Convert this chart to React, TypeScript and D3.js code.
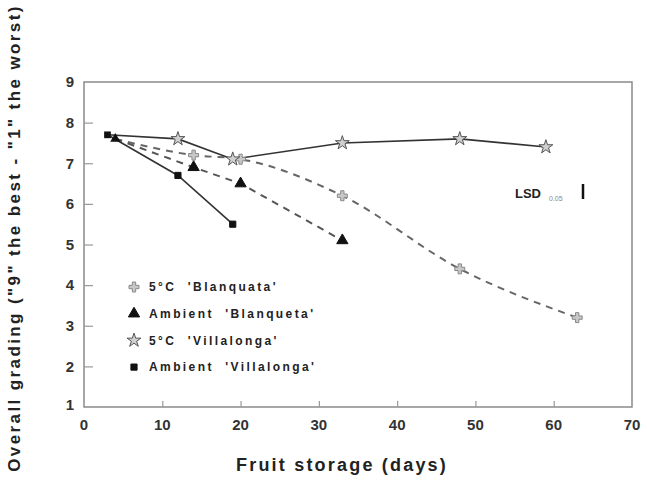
import React, { useEffect, useRef } from 'react';
import * as d3 from 'd3';

interface Pt { day: number; grade: number; }

// 5°C 'Blanquata' (crosses, dashed)
const blanq5: Pt[] = [
  { day: 4, grade: 7.6 }, { day: 14, grade: 7.2 }, { day: 20, grade: 7.1 },
  { day: 33, grade: 6.2 }, { day: 48, grade: 4.4 }, { day: 63, grade: 3.2 }
];
// Ambient 'Blanqueta' (triangles, dashed)
const blanqAmb: Pt[] = [
  { day: 4, grade: 7.6 }, { day: 14, grade: 6.9 }, { day: 20, grade: 6.5 }, { day: 33, grade: 5.1 }
];
// 5°C 'Villalonga' (stars, solid)
const villa5: Pt[] = [
  { day: 3, grade: 7.7 }, { day: 12, grade: 7.6 }, { day: 19, grade: 7.1 },
  { day: 33, grade: 7.5 }, { day: 48, grade: 7.6 }, { day: 59, grade: 7.4 }
];
// Ambient 'Villalonga' (squares, solid)
const villaAmb: Pt[] = [
  { day: 3, grade: 7.7 }, { day: 12, grade: 6.7 }, { day: 19, grade: 5.5 }
];

const xTicks = [0, 10, 20, 30, 40, 50, 60, 70];
const yTicks = [1, 2, 3, 4, 5, 6, 7, 8, 9];
const legendLabels = ["5\u00B0C  'Blanquata'", "Ambient  'Blanqueta'", "5\u00B0C  'Villalonga'", "Ambient  'Villalonga'"];

const App: React.FC = () => {
  const svgRef = useRef<SVGSVGElement>(null);

  useEffect(() => {
    if (!svgRef.current) return;
    const svg = d3.select(svgRef.current);
    svg.selectAll('*').remove();

    const font = "'Liberation Sans', Arial, sans-serif";
    const left = 84, right = 632, top = 82, bottom = 407;

    const x = d3.scaleLinear().domain([0, 70]).range([left, right]);
    const y = d3.scaleLinear().domain([1, 9]).range([bottom, top]);

    // Frame
    svg.append('rect')
      .attr('x', left).attr('y', top)
      .attr('width', right - left).attr('height', bottom - top)
      .attr('fill', 'none').attr('stroke', '#8a8a8a').attr('stroke-width', 1.5);

    // Inner ticks
    svg.append('g')
      .attr('transform', `translate(${left},0)`)
      .call(d3.axisRight(y).tickValues(yTicks.slice(1, -1)).tickSize(9).tickFormat(() => ''))
      .call(g => g.select('.domain').remove())
      .call(g => g.selectAll('line').attr('stroke', '#999').attr('stroke-width', 1.2));

    svg.append('g')
      .attr('transform', `translate(0,${bottom})`)
      .call(d3.axisTop(x).tickValues(xTicks.slice(1, -1)).tickSize(6).tickFormat(() => ''))
      .call(g => g.select('.domain').remove())
      .call(g => g.selectAll('line').attr('stroke', '#999').attr('stroke-width', 1.2));

    // Tick labels
    svg.append('g').selectAll('text')
      .data(yTicks).enter().append('text')
      .attr('x', 74).attr('y', d => y(d) - (d === 1 ? 2 : 0))
      .attr('dy', '0.35em').attr('text-anchor', 'end')
      .attr('font-family', font).attr('font-weight', 'bold').attr('font-size', 15)
      .attr('fill', '#333').text(d => d);

    svg.append('g').selectAll('text')
      .data(xTicks).enter().append('text')
      .attr('x', d => x(d)).attr('y', 430)
      .attr('text-anchor', 'middle')
      .attr('font-family', font).attr('font-weight', 'bold').attr('font-size', 15)
      .attr('fill', '#333').text(d => d);

    // Axis titles
    svg.append('text')
      .attr('x', 342).attr('y', 471)
      .attr('text-anchor', 'middle')
      .attr('font-family', font).attr('font-weight', 'bold').attr('font-size', 18)
      .attr('letter-spacing', 2.2)
      .attr('fill', '#222').text('Fruit storage (days)');

    svg.append('text')
      .attr('transform', 'translate(20,238) rotate(-90)')
      .attr('text-anchor', 'middle')
      .attr('font-family', font).attr('font-weight', 'bold').attr('font-size', 17)
      .attr('letter-spacing', 2.4)
      .attr('fill', '#222').text('Overall grading ("9" the best - "1" the worst)');

    // Lines
    const straight = d3.line<Pt>().x(d => x(d.day)).y(d => y(d.grade));
    const smooth = d3.line<Pt>().x(d => x(d.day)).y(d => y(d.grade)).curve(d3.curveMonotoneX);

    svg.append('path').datum(blanq5).attr('d', smooth)
      .attr('fill', 'none').attr('stroke', '#666').attr('stroke-width', 2).attr('stroke-dasharray', '7,6');
    svg.append('path').datum(blanqAmb).attr('d', straight)
      .attr('fill', 'none').attr('stroke', '#555').attr('stroke-width', 2).attr('stroke-dasharray', '7,6');
    svg.append('path').datum(villa5).attr('d', straight)
      .attr('fill', 'none').attr('stroke', '#333').attr('stroke-width', 1.6);
    svg.append('path').datum(villaAmb).attr('d', straight)
      .attr('fill', 'none').attr('stroke', '#333').attr('stroke-width', 1.6);

    // Markers
    const sym = [
      { type: d3.symbolCross, size: 55, fill: '#c8c8c8', stroke: '#888' },
      { type: d3.symbolTriangle, size: 55, fill: '#111', stroke: '#111' },
      { type: d3.symbolStar, size: 60, fill: '#d0d0d0', stroke: '#555' },
      { type: d3.symbolSquare, size: 38, fill: '#111', stroke: '#111' }
    ];
    const series = [blanq5, blanqAmb, villa5, villaAmb];

    series.forEach((s, i) => {
      const st = sym[i];
      svg.append('g').selectAll('path')
        .data(s.slice(1)).enter().append('path')
        .attr('transform', d => `translate(${x(d.day)},${y(d.grade)})`)
        .attr('d', d3.symbol().type(st.type).size(st.size)())
        .attr('fill', st.fill).attr('stroke', st.stroke).attr('stroke-width', 1);
    });
    // shared starting points
    [villa5[0], blanq5[0]].forEach((d, i) => {
      svg.append('path')
        .attr('transform', `translate(${x(d.day)},${y(d.grade)})`)
        .attr('d', d3.symbol().type(i === 0 ? d3.symbolSquare : d3.symbolTriangle).size(45)())
        .attr('fill', '#111');
    });

    // Legend
    const lg = svg.append('g');
    legendLabels.forEach((label, i) => {
      const ly = 287 + i * 26.7;
      const st = sym[i];
      lg.append('path')
        .attr('transform', `translate(134,${ly})`)
        .attr('d', d3.symbol().type(st.type).size(st.size)())
        .attr('fill', st.fill).attr('stroke', st.stroke).attr('stroke-width', 1);
      lg.append('text')
        .attr('x', 149).attr('y', ly).attr('dy', '0.35em')
        .attr('font-family', font).attr('font-weight', 'bold').attr('font-size', 12)
        .attr('letter-spacing', 2.4)
        .style('white-space', 'pre')
        .attr('fill', '#222').text(label);
    });

    // LSD annotation
    svg.append('text')
      .attr('x', 515).attr('y', 198)
      .attr('font-family', font).attr('font-weight', 'bold').attr('font-size', 13)
      .attr('fill', '#222').text('LSD');
    svg.append('text')
      .attr('x', 549).attr('y', 201)
      .attr('font-family', font).attr('font-size', 7)
      .attr('fill', '#888').text('0.05');
    svg.append('line')
      .attr('x1', 583).attr('x2', 583).attr('y1', 184).attr('y2', 199)
      .attr('stroke', '#111').attr('stroke-width', 2.5);
  }, []);

  return (
    <svg ref={svgRef} width={647} height={480}
      style={{ position: 'absolute', left: 0, top: 0, background: '#fff' }} />
  );
};

export default App;
